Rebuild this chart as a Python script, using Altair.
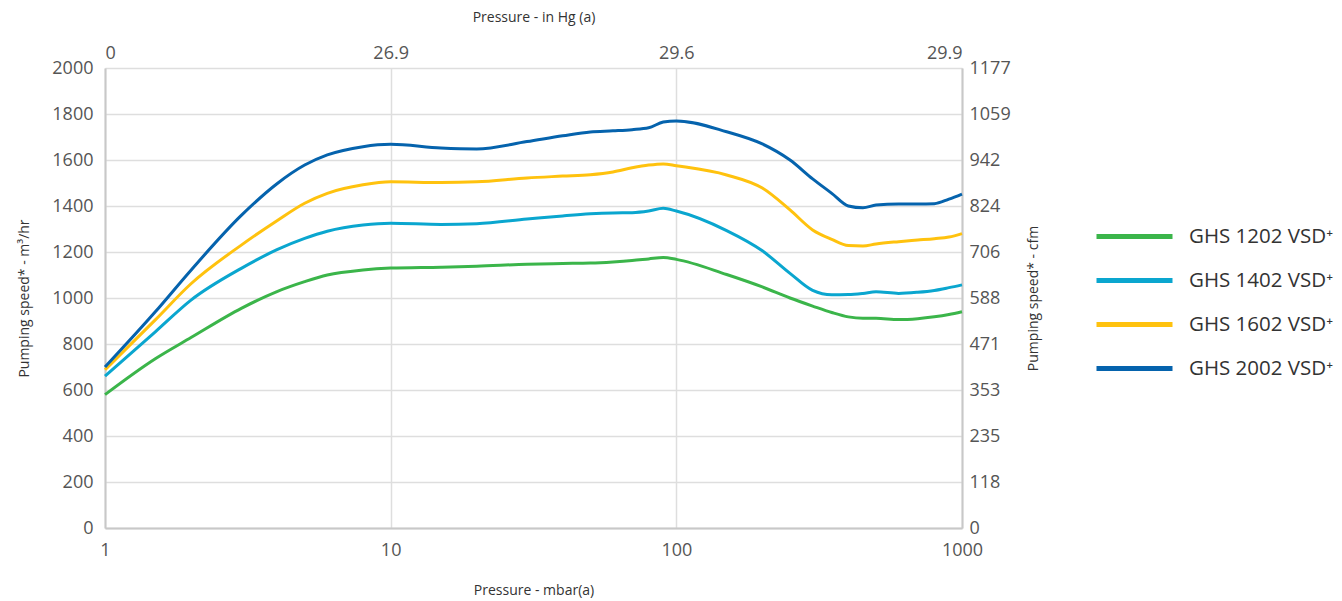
import altair as alt
import pandas as pd

# Pressure (mbar) sample points
pressure = [1, 1.5, 2, 3, 4, 5, 6, 8, 10, 15, 20, 30, 40, 50, 60, 70, 80, 90, 100,
            150, 200, 250, 300, 350, 400, 450, 500, 600, 700, 800, 900, 1000]

ghs1202 = [580, 736, 828, 955, 1028, 1071, 1100, 1122, 1130, 1134, 1138, 1147, 1150, 1152,
           1157, 1163, 1170, 1176, 1168, 1102, 1048, 1000, 965, 937, 918, 912, 912, 906,
           910, 918, 928, 940]
ghs1402 = [660, 853, 991, 1129, 1210, 1259, 1290, 1317, 1325, 1320, 1323, 1343, 1357, 1366,
           1370, 1371, 1378, 1390, 1378, 1293, 1205, 1107, 1033, 1014, 1015, 1020, 1027,
           1020, 1025, 1033, 1045, 1057]
ghs1602 = [688, 905, 1062, 1230, 1336, 1412, 1455, 1492, 1505, 1502, 1505, 1522, 1530, 1536,
           1548, 1566, 1578, 1583, 1575, 1535, 1478, 1383, 1296, 1255, 1228, 1226, 1235,
           1245, 1252, 1258, 1265, 1280]
ghs2002 = [700, 940, 1121, 1359, 1497, 1578, 1622, 1658, 1668, 1652, 1648, 1680, 1705, 1722,
           1727, 1732, 1740, 1765, 1770, 1723, 1670, 1600, 1518, 1455, 1400, 1392, 1404,
           1409, 1409, 1410, 1430, 1452]

series_names = ["GHS 1202 VSD\u207a", "GHS 1402 VSD\u207a", "GHS 1602 VSD\u207a", "GHS 2002 VSD\u207a"]
series_colors = ["#3bb54a", "#0aa6cf", "#ffc20e", "#0563ad"]

bottom_ticks = [1, 10, 100, 1000]
top_labels = ["0", "26.9", "29.6", "29.9"]
left_ticks = [0, 200, 400, 600, 800, 1000, 1200, 1400, 1600, 1800, 2000]
cfm_labels = ["0", "118", "235", "353", "471", "588", "706", "824", "942", "1059", "1177"]

rows = []
for name, vals in zip(series_names, [ghs1202, ghs1402, ghs1602, ghs2002]):
    for p, v in zip(pressure, vals):
        rows.append({"pressure": p, "speed": v, "model": name})
df = pd.DataFrame(rows)


def lookup_expr(ticks, labels):
    expr = "''"
    for t, l in reversed(list(zip(ticks, labels))):
        expr = f"datum.value == {t} ? '{l}' : ({expr})"
    return expr


FONT = "Open Sans"
xscale = alt.Scale(type="log", domain=[1, 1000], nice=False)
yscale = alt.Scale(domain=[0, 2000], nice=False, zero=True)

base = alt.Chart(df)

lines = base.mark_line(strokeWidth=3, interpolate="monotone").encode(
    x=alt.X("pressure:Q", scale=xscale,
            axis=alt.Axis(orient="bottom", values=bottom_ticks, title="Pressure - mbar(a)",
                          grid=True, ticks=False, labelPadding=13, titlePadding=24,
                          domain=True, domainColor="#c8c8c8", domainWidth=2,
                          format="d", labelFlush=False)),
    y=alt.Y("speed:Q", scale=yscale,
            axis=alt.Axis(orient="left", values=left_ticks, title="Pumping speed* - m\u00b3/hr",
                          grid=True, ticks=False, labelPadding=12, titlePadding=20,
                          format="d",
                          domain=True, domainColor="#c8c8c8", domainWidth=2)),
    color=alt.Color("model:N",
                    scale=alt.Scale(domain=series_names, range=series_colors),
                    legend=alt.Legend(title=None, orient="none", legendX=1008, legendY=147,
                                      symbolType="M-2,0H2", symbolSize=1444,
                                      symbolStrokeWidth=5, labelFontSize=20.5,
                                      labelFont=FONT, labelColor="#333333",
                                      labelOffset=33, rowPadding=12, padding=0)),
)

ghost = base.mark_line(opacity=0).encode(
    x=alt.X("pressure:Q", scale=xscale,
            axis=alt.Axis(orient="top", values=bottom_ticks, title="Pressure - in Hg (a)",
                          grid=False, ticks=False, domain=False, labelPadding=6,
                          titlePadding=20, labelFlush=True,
                          labelExpr=lookup_expr(bottom_ticks, top_labels))),
    y=alt.Y("speed:Q", scale=yscale,
            axis=alt.Axis(orient="right", values=left_ticks, title="Pumping speed* - cfm",
                          grid=False, ticks=False, labelPadding=7, titlePadding=30,
                          titleAngle=270, domain=True, domainColor="#c8c8c8", domainWidth=2,
                          labelExpr=lookup_expr(left_ticks, cfm_labels))),
    detail="model:N",
)

chart = alt.layer(lines, ghost).resolve_scale(
    x="independent", y="independent"
).properties(
    width=857, height=460,
    padding={"left": 97, "top": 60, "right": 372, "bottom": 72},
    autosize=alt.AutoSizeParams(type="none"),
).configure_view(
    stroke=None
).configure_axis(
    labelFont=FONT, titleFont=FONT, labelFontSize=18, titleFontSize=14,
    labelColor="#555555", titleColor="#333333", titleFontWeight="normal",
    gridColor="#dedede", gridWidth=1.5,
)

chart.save("out.html", embed_options={"renderer": "svg", "actions": False})
